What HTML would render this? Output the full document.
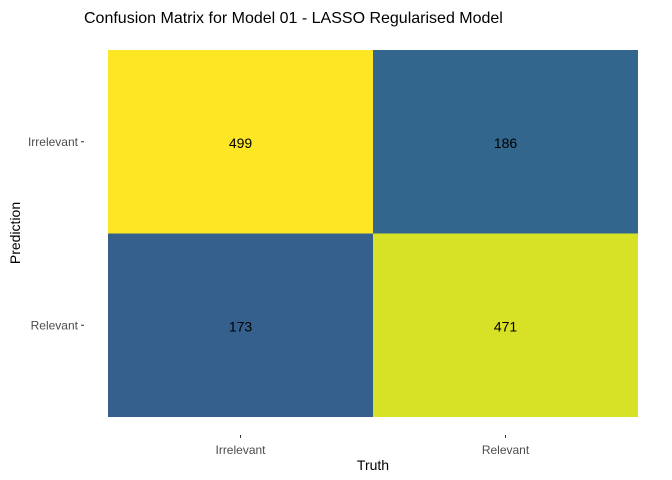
<!DOCTYPE html>
<html><head><meta charset="utf-8"><style>
body{margin:0;background:#fff;}
svg{display:block;font-family:"Liberation Sans",Arial,sans-serif;}
</style></head><body>
<svg id="chart" width="672" height="480">
<text x="84" y="23" font-size="16" fill="#000">Confusion Matrix for Model 01 - LASSO Regularised Model</text>
<g id="cells"></g>
<g id="axes"></g>
<text x="373" y="470" font-size="14" text-anchor="middle" fill="#000">Truth</text>
<text transform="translate(20,233) rotate(-90)" font-size="14" text-anchor="middle" fill="#000">Prediction</text>
</svg>
<script>
const truthCats = ["Irrelevant","Relevant"];
const predCats = ["Irrelevant","Relevant"];
const counts = [[499,186],[173,471]]; // counts[predIdx][truthIdx]

const L=108,R=638,T=50,B=417;
const cw=(R-L)/truthCats.length, ch=(B-T)/predCats.length;
function xScale(i){return L+i*cw;}
function yScale(j){return T+j*ch;}
const vir=[[68,1,84],[72,36,117],[65,68,135],[53,95,141],[42,120,142],[33,145,140],[34,168,132],[68,191,112],[122,209,81],[189,223,38],[253,231,37]];
function color(v){
  const all=counts.flat();
  const mx=Math.max(...all), mn=Math.min(...all);
  const lo=mx-(mx-mn)/0.7;
  let t=Math.max(0,Math.min(1,(v-lo)/(mx-lo)))*(vir.length-1);
  const i=Math.min(Math.floor(t),vir.length-2), f=t-i;
  const c=vir[i].map((a,k)=>Math.round(a+(vir[i+1][k]-a)*f));
  return `rgb(${c[0]},${c[1]},${c[2]})`;
}
const ns="http://www.w3.org/2000/svg";
const cells=document.getElementById('cells'), axes=document.getElementById('axes');
predCats.forEach((p,j)=>{
  truthCats.forEach((t,i)=>{
    const r=document.createElementNS(ns,'rect');
    r.setAttribute('x',xScale(i));r.setAttribute('y',yScale(j));
    r.setAttribute('width',cw);r.setAttribute('height',ch);
    r.setAttribute('fill',color(counts[j][i]));
    
    
    cells.appendChild(r);
    const tx=document.createElementNS(ns,'text');
    tx.setAttribute('x',xScale(i)+cw/2);tx.setAttribute('y',yScale(j)+ch/2+6);
    tx.setAttribute('text-anchor','middle');tx.setAttribute('font-size','14');
    tx.textContent=counts[j][i];
    
    
    cells.appendChild(tx);
  });
});
truthCats.forEach((t,i)=>{
  const x=xScale(i)+cw/2;
  const ln=document.createElementNS(ns,'line');
  ln.setAttribute('x1',x);ln.setAttribute('x2',x);ln.setAttribute('y1',B+18);ln.setAttribute('y2',B+21);
  ln.setAttribute('stroke','#333');
  
  
  axes.appendChild(ln);
  const tx=document.createElementNS(ns,'text');
  tx.setAttribute('x',x);tx.setAttribute('y',B+37);tx.setAttribute('text-anchor','middle');
  tx.setAttribute('font-size','12');tx.setAttribute('fill','#4d4d4d');
  tx.textContent=t;
  
  
  axes.appendChild(tx);
});
predCats.forEach((p,j)=>{
  const y=yScale(j)+ch/2;
  const ln=document.createElementNS(ns,'line');
  ln.setAttribute('x1',L-27);ln.setAttribute('x2',L-24);ln.setAttribute('y1',y);ln.setAttribute('y2',y);
  ln.setAttribute('stroke','#333');
  
  
  axes.appendChild(ln);
  const tx=document.createElementNS(ns,'text');
  tx.setAttribute('x',L-30);tx.setAttribute('y',y+4);tx.setAttribute('text-anchor','end');
  tx.setAttribute('font-size','12');tx.setAttribute('fill','#4d4d4d');
  tx.textContent=p;
  
  
  axes.appendChild(tx);
});
</script>
</body></html>
